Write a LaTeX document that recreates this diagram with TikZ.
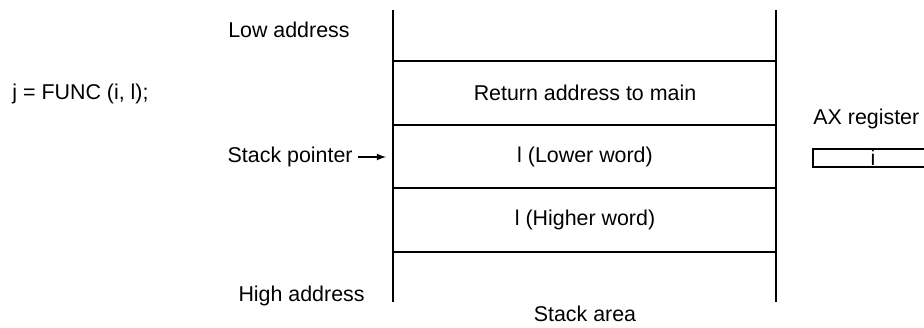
\documentclass[tikz,border=0pt]{standalone}
\usepackage{fontspec}
\setmainfont{Liberation Sans}
\usetikzlibrary{positioning}
\usetikzlibrary{arrows}

\begin{document}
\begin{tikzpicture}[x=0.5pt,y=-0.5pt,
        lbl/.style={font=\fontsize{10.7}{13}\selectfont, inner sep=0pt},
        wall/.style={line width=1.3pt},
        cellline/.style={line width=0.6pt},
        regbox/.style={lbl, draw, line width=1pt, minimum width=60pt, minimum height=9pt,
            text height=7.5pt, text depth=0pt, anchor=west}]
        \useasboundingbox (0,0) rectangle (924,327);
        % Call
        \node[lbl, anchor=west] (call) at (12,94) {j = FUNC (i, l);};
        % Address labels
        \node[lbl, anchor=east] (low) at (350,30) {Low address};
        \node[lbl, anchor=east] (high) at (365,296) {High address};
        \node[lbl, anchor=east] (sp) at (353,157) {Stack pointer};
        \coordinate (spend) at (386,157);
        \draw[-latex, line width=0.6pt] (sp.east) ++(5,0) -- (spend);
        % Stack walls
        \draw[wall] (393,10) -- (393,302);
        \draw[wall] (776,10) -- (776,302);
        % Cell borders
        \foreach \y in {61,125,188,252}
            \draw[cellline] (393,\y) -- (776,\y);
        % Cells
        \foreach \y/\t [count=\i] in {93/Return address to main, 157/l (Lower word), 220/l (Higher word)}
            \node[lbl] (cell\i) at (585,\y) {\t};
        \node[lbl] (area) at (585,314) {Stack area};
        % Register
        \node[lbl, anchor=west] (axname) at (813,119) {AX register};
        \node[regbox] (ax) at (812,158) {i};
    \end{tikzpicture}
\end{document}
